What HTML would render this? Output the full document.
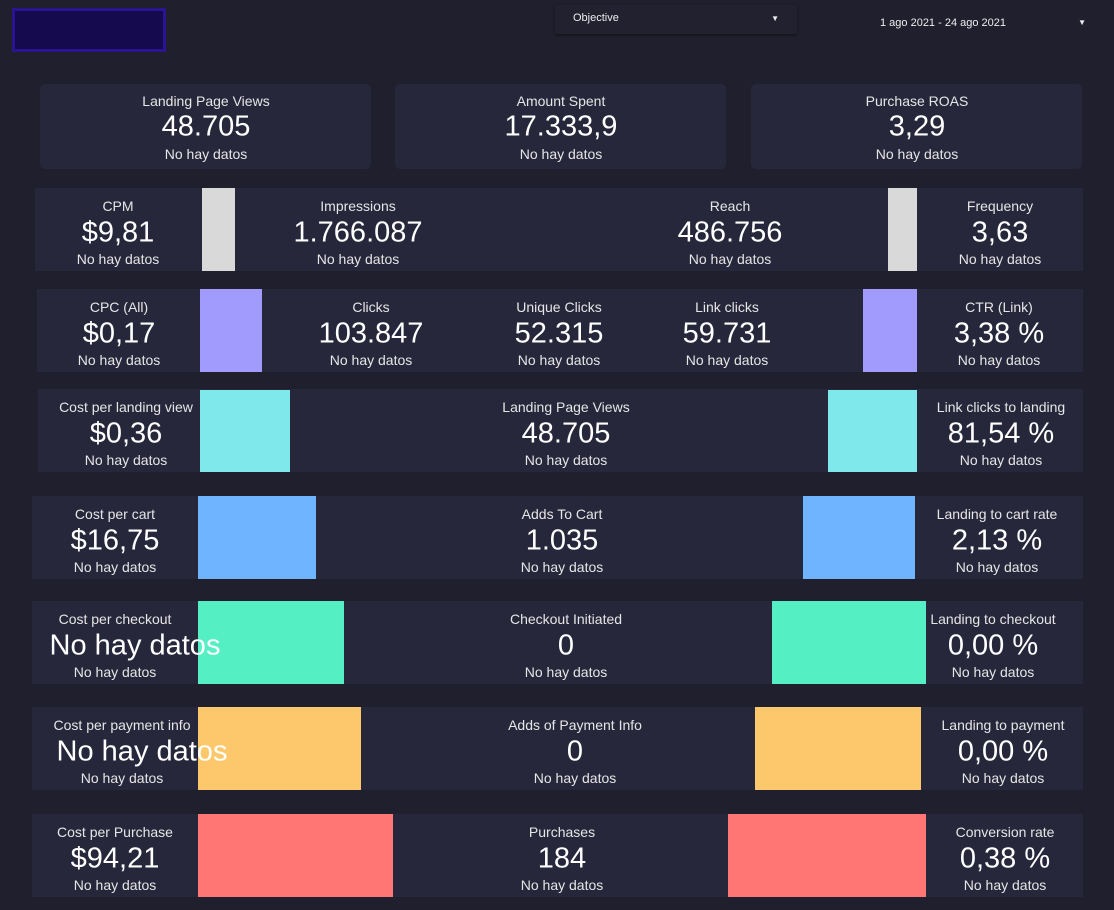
<!DOCTYPE html>
<html><head><meta charset="utf-8">
<style>
body{margin:0;width:1114px;height:910px;background:#1f1f2e;font-family:"Liberation Sans",sans-serif;color:#f2f2f2;overflow:hidden;position:relative}
.abs{position:absolute}
.card{position:absolute;background:#26273b}
.t{position:absolute;transform:translate(-50%,-50%);white-space:nowrap;text-align:center}
.lab{font-size:14px;color:#e6e6e6}
.val{font-size:29px;color:#fff}
.sub{font-size:14px;color:#e6e6e6}
</style></head><body>
<div class="abs" style="left:12px;top:8px;width:148px;height:38px;background:#150a4d;border:3px solid #2a1490"></div>
<div class="abs" style="left:555px;top:5px;width:242px;height:29px;background:#21212f;box-shadow:0 1px 2px #111;font-size:11px;line-height:27px;color:#eee"><span style="margin-left:18px">Objective</span><span style="position:absolute;right:18px;font-size:8px">▼</span></div>
<div class="abs" style="left:870px;top:10px;width:220px;height:26px;font-size:11px;line-height:26px;color:#eee"><span style="margin-left:10px">1 ago 2021 - 24 ago 2021</span><span style="position:absolute;right:4px;font-size:8px">▼</span></div>
<div id="root"></div>
<script>
const topLabels=["Landing Page Views","Amount Spent","Purchase ROAS"];
const topValues=["48.705","17.333,9","3,29"];
const topX=[40,395,751];
const rowTop=[188,289,389,496,601,707,814];
const rowLeft=[35,37,38,32,32,32,32];
const rowColors=["#d9d9d9","#a29bfe","#7ee8ea","#6eb4ff","#55efc4","#fdc86b","#ff7675"];
const barLeft=[[202,235],[200,262],[200,290],[198,316],[198,344],[198,361],[198,393]];
const barRight=[[888,917],[863,917],[828,917],[803,915],[772,926],[755,921],[728,926]];
const rowMetrics=[
 [["CPM","$9,81",118],["Impressions","1.766.087",358],["Reach","486.756",730],["Frequency","3,63",1000]],
 [["CPC (All)","$0,17",119],["Clicks","103.847",371],["Unique Clicks","52.315",559],["Link clicks","59.731",727],["CTR (Link)","3,38 %",999]],
 [["Cost per landing view","$0,36",126],["Landing Page Views","48.705",566],["Link clicks to landing","81,54 %",1001]],
 [["Cost per cart","$16,75",115],["Adds To Cart","1.035",562],["Landing to cart rate","2,13 %",997]],
 [["Cost per checkout","No hay datos",115],["Checkout Initiated","0",566],["Landing to checkout","0,00 %",993]],
 [["Cost per payment info","No hay datos",122],["Adds of Payment Info","0",575],["Landing to payment","0,00 %",1003]],
 [["Cost per Purchase","$94,21",115],["Purchases","184",562],["Conversion rate","0,38 %",1005]]
];
const root=document.getElementById('root');
function txt(cls,s,x,y,parent){const d=document.createElement('div');d.className='t '+cls;d.textContent=s;d.style.left=x+'px';d.style.top=y+'px';parent.appendChild(d);return d;}
topLabels.forEach((l,i)=>{
 const c=document.createElement('div');c.className='card';
 
 
 c.style.cssText+='left:'+topX[i]+'px;top:84px;width:331px;height:85px;border-radius:5px';
 root.appendChild(c);
 const a=txt('lab',l,166,17,c);
 const b=txt('val',topValues[i],166,43,c);
 const s=txt('sub','No hay datos',166,70,c);
});
rowTop.forEach((y,r)=>{
 const c=document.createElement('div');c.className='card';
 
 
 c.style.cssText+='left:'+rowLeft[r]+'px;top:'+y+'px;width:'+(1083-rowLeft[r])+'px;height:83px';
 root.appendChild(c);
 [barLeft[r],barRight[r]].forEach((b,k)=>{
  const d=document.createElement('div');d.className='abs';
  
  
  d.style.cssText='left:'+b[0]+'px;top:'+(y+(r===2?1:0))+'px;width:'+(b[1]-b[0])+'px;height:'+(r===2?82:83)+'px;background:'+rowColors[r];
  root.appendChild(d);
 });
 rowMetrics[r].forEach(m=>{
  const a=txt('lab',m[0],m[2],y+18,root);
  const b=txt('val',m[1],m[2]+(m[1]==='No hay datos'?20:0),y+45,root);
  const s=txt('sub','No hay datos',m[2],y+71,root);
 });
});
</script>
</body></html>
